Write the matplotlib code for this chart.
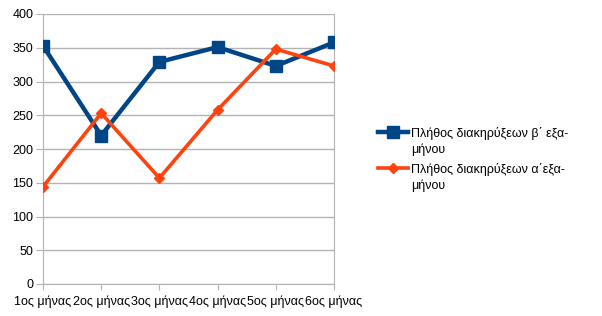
import matplotlib.pyplot as plt
from matplotlib.lines import Line2D

plt.rcParams['font.family'] = ['Liberation Sans', 'DejaVu Sans']

months = ["1ος μήνας", "2ος μήνας", "3ος μήνας", "4ος μήνας", "5ος μήνας", "6ος μήνας"]
b_semester = [353, 220, 329, 351, 323, 358]
a_semester = [144, 253, 157, 258, 348, 323]
label_b = ["Πλήθος διακηρύξεων β΄ εξα-", "μήνου"]
label_a = ["Πλήθος διακηρύξεων α΄εξα-", "μήνου"]

W, H = 602, 316
fig = plt.figure(figsize=(W/100, H/100), dpi=100)
ax = fig.add_axes([43/W, 32/H, 291/W, 270/H])

x = list(range(len(months)))
sty_b = dict(color="#004586", lw=3.2, marker="s", ms=8)
sty_a = dict(color="#ff420e", lw=2.6, marker="D", ms=5.5)
ax.plot(x, b_semester, zorder=3, **sty_b)
ax.plot(x, a_semester, zorder=4, **sty_a)

ax.set_xlim(0, 5)
ax.set_ylim(0, 400)
ax.set_yticks(range(0, 401, 50))
ax.set_xticks(x)
ax.set_xticklabels(months, fontsize=9)
ax.tick_params(axis="y", labelsize=9, length=5, color="#b3b3b3", pad=2)
ax.tick_params(axis="x", length=4, color="#b3b3b3", pad=4)
ax.grid(axis="y", color="#b3b3b3", lw=1)
ax.spines["top"].set_visible(False)
for s in ["left", "right", "bottom"]:
    ax.spines[s].set_color("#b3b3b3")
ax.set_axisbelow(True)

# legend drawn by hand: handle lines up with the first text line
def entry(ytop, sty, lines):
    yf = 1 - ytop/H
    fig.add_artist(Line2D([378/W, 393/W, 408/W], [yf, yf, yf], markevery=[1], **sty))
    for k, t in enumerate(lines):
        fig.text(411/W, 1 - (ytop + 16*k)/H, t, fontsize=9, va="center_baseline")

entry(132, sty_b, label_b)
entry(168, sty_a, label_a)

fig.savefig("out.png", dpi=100)
